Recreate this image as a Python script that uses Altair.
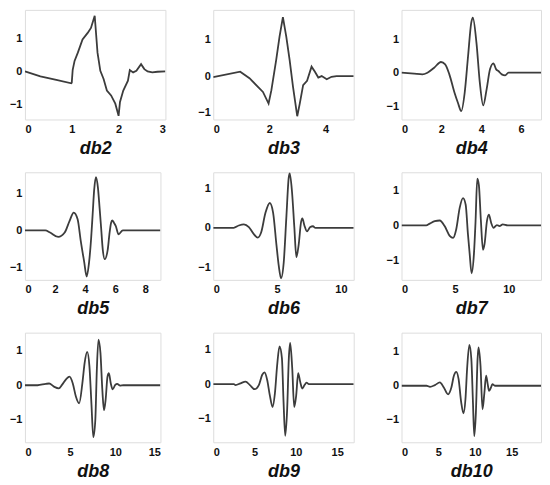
import altair as alt
import pandas as pd

names = ["db2", "db3", "db4", "db5", "db6", "db7", "db8", "db9", "db10"]

db2_x = [0, 0.33, 0.67, 0.99, 1.0, 1.02, 1.06, 1.13, 1.23, 1.34, 1.41, 1.49, 1.55, 1.61, 1.68, 1.75, 1.84, 1.93, 2.0, 2.03, 2.1, 2.2, 2.24, 2.31, 2.38, 2.48, 2.55, 2.62, 2.72, 2.83, 3.0]
db2_y = [0, -0.15, -0.26, -0.36, -0.34, 0.05, 0.32, 0.57, 0.97, 1.17, 1.32, 1.69, 0.57, 0.02, -0.23, -0.58, -0.73, -0.98, -1.35, -0.93, -0.58, -0.28, 0.04, -0.03, 0.02, 0.22, 0.07, 0.0, -0.03, -0.01, 0]

db3_x = [0, 0.96, 1.29, 1.77, 1.97, 2.07, 2.24, 2.36, 2.48, 2.6, 2.72, 2.84, 2.99, 3.08, 3.2, 3.34, 3.5, 3.62, 3.74, 3.86, 4.04, 4.21, 4.39, 5.0]
db3_y = [-0.03, 0.12, -0.06, -0.44, -0.76, -0.39, 0.44, 1.09, 1.63, 1.09, 0.44, -0.3, -1.11, -0.76, -0.25, -0.13, 0.26, 0.12, -0.04, 0.0, -0.09, -0.02, 0, 0]

db4_x = [0, 0.63, 1.05, 1.3, 1.64, 1.98, 2.19, 2.4, 2.66, 2.83, 3.0, 3.17, 3.34, 3.5, 3.58, 3.76, 3.93, 4.1, 4.27, 4.44, 4.61, 4.75, 4.86, 5.03, 5.2, 5.37, 7.0]
db4_y = [0, -0.03, -0.05, 0.0, 0.15, 0.32, 0.25, -0.05, -0.6, -0.9, -1.15, -0.6, 0.5, 1.5, 1.65, 0.9, -0.3, -0.98, -0.5, 0.1, 0.28, 0.1, 0.05, -0.05, -0.08, 0, 0]

db5_x = [0, 1.35, 1.67, 2.21, 2.64, 2.96, 3.24, 3.5, 3.71, 3.93, 4.1, 4.25, 4.4, 4.5, 4.6, 4.72, 4.85, 4.96, 5.06, 5.17, 5.3, 5.5, 5.61, 5.72, 5.8, 5.92, 6.03, 6.22, 6.5, 9.0]
db5_y = [0, 0, -0.06, -0.18, -0.06, 0.25, 0.48, 0.3, -0.29, -0.84, -1.25, -0.9, -0.2, 0.45, 1.1, 1.44, 1.15, 0.6, 0.07, -0.52, -0.78, -0.52, -0.11, 0.2, 0.27, 0.2, 0.12, -0.11, 0, 0]

db6_x = [0, 1.6, 2.0, 2.4, 2.79, 3.18, 3.49, 3.75, 4.09, 4.43, 4.69, 4.95, 5.13, 5.31, 5.52, 5.73, 5.91, 5.99, 6.17, 6.35, 6.51, 6.69, 6.88, 6.98, 7.14, 7.34, 7.6, 7.81, 8.0, 11.0]
db6_y = [0, 0, 0.06, 0.09, 0.02, -0.16, -0.25, -0.12, 0.38, 0.63, 0.38, -0.43, -0.96, -1.28, -0.88, 0.29, 1.27, 1.38, 0.91, 0.02, -0.74, -0.43, 0.15, 0.24, 0.06, -0.09, 0.02, 0.04, 0, 0]

db7_x = [0, 2.3, 2.63, 3.1, 3.56, 4.02, 4.49, 4.8, 5.1, 5.42, 5.73, 5.98, 6.19, 6.35, 6.53, 6.75, 6.9, 7.06, 7.21, 7.4, 7.59, 7.74, 7.96, 8.14, 8.36, 8.58, 8.89, 9.13, 9.44, 9.9, 13.0]
db7_y = [0, 0, 0.05, 0.12, 0.14, -0.02, -0.3, -0.36, -0.11, 0.5, 0.78, 0.59, -0.25, -0.81, -1.37, -0.81, 0.12, 1.34, 1.15, 0.12, -0.7, -0.53, 0.12, 0.31, 0.07, -0.07, 0.01, -0.02, 0.03, 0, 0]

db8_x = [0, 1.4, 2.32, 2.68, 3.21, 3.75, 4.1, 4.57, 4.93, 5.29, 5.64, 6.0, 6.36, 6.61, 6.89, 7.14, 7.36, 7.57, 7.79, 7.96, 8.14, 8.36, 8.57, 8.75, 8.93, 9.14, 9.29, 9.5, 9.71, 10.0, 10.21, 10.54, 10.9, 15.0]
db8_y = [0, 0, 0.04, 0.05, -0.04, -0.09, 0.01, 0.18, 0.25, 0.06, -0.33, -0.53, 0.06, 0.65, 0.97, 0.55, -0.53, -1.51, -1.02, 0.45, 1.33, 0.94, -0.14, -0.73, -0.43, 0.25, 0.35, 0.06, -0.12, 0.01, 0.04, -0.01, 0, 0]

db9_x = [0, 2.5, 2.7, 3.3, 3.91, 4.44, 5.0, 5.52, 5.93, 6.21, 6.53, 6.85, 7.18, 7.46, 7.74, 8.02, 8.31, 8.51, 8.71, 8.95, 9.15, 9.31, 9.56, 9.8, 10.04, 10.28, 10.52, 10.77, 11.05, 11.29, 11.57, 17.0]
db9_y = [0, 0, -0.03, 0.02, 0.07, -0.03, -0.15, -0.03, 0.27, 0.34, 0.12, -0.33, -0.67, -0.28, 0.56, 1.1, 0.76, -0.52, -1.51, -0.72, 0.76, 1.2, 0.46, -0.67, -0.33, 0.32, 0.07, -0.13, -0.03, 0.04, 0, 0]

db10_x = [0, 3.4, 3.88, 4.55, 5.22, 5.76, 6.34, 6.79, 7.14, 7.46, 7.77, 8.13, 8.44, 8.71, 8.93, 9.24, 9.51, 9.73, 9.91, 10.13, 10.36, 10.49, 10.76, 11.03, 11.29, 11.52, 11.74, 11.92, 12.19, 12.37, 12.72, 19.0]
db10_y = [0, 0, -0.03, 0.02, 0.1, -0.05, -0.25, -0.05, 0.3, 0.41, 0.2, -0.49, -0.81, -0.39, 0.49, 1.2, 0.79, -0.49, -1.48, -0.79, 0.79, 1.13, 0.59, -0.69, -0.2, 0.3, 0.05, -0.15, -0.05, 0.05, 0, 0]

x_max = [3, 5, 7, 9, 11, 13, 15, 17, 19]
x_ticks = [[0, 1, 2, 3], [0, 2, 4], [0, 2, 4, 6], [0, 2, 4, 6, 8], [0, 5, 10], [0, 5, 10],
           [0, 5, 10, 15], [0, 5, 10, 15], [0, 5, 10, 15]]
y_ticks = [-1, 0, 1]
y_domains = [[-1.46, 1.87], [-1.2, 1.83], [-1.4, 1.88], [-1.34, 1.57], [-1.32, 1.41],
             [-1.56, 1.52], [-1.66, 1.53], [-1.7, 1.5], [-1.66, 1.56]]

series = [(db2_x, db2_y), (db3_x, db3_y), (db4_x, db4_y), (db5_x, db5_y), (db6_x, db6_y),
          (db7_x, db7_y), (db8_x, db8_y), (db9_x, db9_y), (db10_x, db10_y)]

widths = [141, 141, 140, 136, 141, 140, 136, 141, 140]
heights = [110, 110, 110, 108, 108, 108, 110, 110, 110]

FONT = "Liberation Sans"


def panel(i):
    xs, ys = series[i]
    df = pd.DataFrame({"x": xs, "y": ys})
    interp = "linear" if i < 2 else "monotone"
    return alt.Chart(df).mark_line(
        interpolate=interp, color="#3c3c3c", strokeWidth=1.8, clip=True
    ).encode(
        x=alt.X("x:Q",
                scale=alt.Scale(domain=[0, x_max[i]], nice=False, zero=False),
                axis=alt.Axis(values=x_ticks[i], title=names[i], format="d",
                              titleFont=FONT, titleFontSize=18, titleFontStyle="italic",
                              titleFontWeight="bold", titleColor="#111", titlePadding=5,
                              labelFont=FONT, labelFontSize=11, labelFontWeight="bold",
                              labelColor="#111", labelPadding=4, ticks=False,
                              domain=False, grid=False)),
        y=alt.Y("y:Q",
                scale=alt.Scale(domain=y_domains[i], nice=False, zero=False),
                axis=alt.Axis(values=y_ticks, title=None, format="d",
                              labelFont=FONT, labelFontSize=11, labelFontWeight="bold",
                              labelColor="#111", labelPadding=3, ticks=False,
                              domain=False, grid=False)),
    ).properties(width=widths[i], height=heights[i])


chart = alt.concat(
    *[panel(i) for i in range(9)],
    columns=3, spacing={"row": 53, "column": 48}, bounds="flush", align="each"
).properties(
    padding={"left": 0, "top": 0, "right": 0, "bottom": 0}
).configure_view(
    stroke="#5a5a5a", strokeWidth=1.5
).configure(background="white")

chart.save("out.html", embed_options={"renderer": "svg", "actions": False})
